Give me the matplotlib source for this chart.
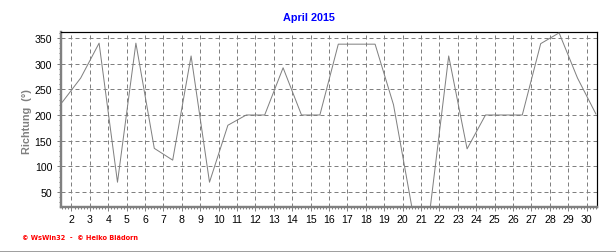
import matplotlib
matplotlib.use("Agg")
import matplotlib.pyplot as plt
from matplotlib.ticker import MultipleLocator, FixedLocator
import numpy as np

# Data
days = [d + 0.5 for d in range(1, 31)]
richtung = [225, 272, 340, 69, 340, 135, 112, 315, 69, 180,
            200, 200, 292, 200, 200, 338, 338, 338, 220, 20,
            20, 315, 134, 200, 200, 200, 339, 360, 272, 202]
xtick_labels = [str(d) for d in range(2, 31)]
ytick_values = [50, 100, 150, 200, 250, 300, 350]
title = "April 2015"
ylabel = "Richtung  (°)"
footer = "© WsWin32  -  © Heiko Blädorn"

W, H = 616, 253
fig = plt.figure(figsize=(W / 100, H / 100), dpi=100)
fig.patch.set_facecolor("white")
plt.rcParams['font.family'] = ['Liberation Sans', 'DejaVu Sans']

ax = fig.add_axes([61 / W, 1 - 208 / H, 536 / W, 175 / H])
ax.set_facecolor("white")

px = 0.72  # 1 pixel in points
gray = "#808080"

ax.plot(days, richtung, color=gray, lw=1.0 * px, zorder=3)

ax.set_xlim(1.43, 30.56)
ax.set_ylim(20.7, 361.7)

ax.xaxis.set_major_locator(FixedLocator(list(range(2, 31))))
ax.set_xticklabels(xtick_labels)
ax.xaxis.set_minor_locator(MultipleLocator(1 / 6))
ax.yaxis.set_major_locator(FixedLocator(ytick_values))
ax.set_yticklabels([str(v) for v in ytick_values])
ax.yaxis.set_minor_locator(MultipleLocator(10))

ax.grid(True, which="major", color=gray, linestyle=(0, (4, 3)), lw=1.0 * px, zorder=1)

ax.tick_params(axis="both", which="major", direction="out", length=4 * px,
               width=1 * px, color=gray, labelsize=7.6, labelcolor="black")
ax.tick_params(axis="x", which="major", pad=2.5)
ax.tick_params(axis="y", which="major", pad=3.5)
ax.tick_params(axis="both", which="minor", direction="out", length=2 * px,
               width=1 * px, color=gray)

for side in ("left", "bottom"):
    ax.spines[side].set_color(gray)
    ax.spines[side].set_linewidth(2.4 * px)
for side in ("top", "right"):
    ax.spines[side].set_color("black")
    ax.spines[side].set_linewidth(1.2 * px)

fig.text(309 / W, 1 - 18 / H, title, color="#0000ff", fontsize=7.8,
         fontweight="bold", ha="center", va="center")
fig.text(27 / W, 1 - 122 / H, ylabel, color=gray, fontsize=7.8,
         fontweight="bold", rotation=90, ha="center", va="center")
fig.text(22 / W, 1 - 238.5 / H, footer, color="#ff0000", fontsize=4.8,
         fontweight="bold", ha="left", va="center", family=["DejaVu Sans"])

# outer frame lines (right and bottom)
fig.add_artist(plt.Line2D([615.5 / W, 615.5 / W], [0, 1], color="#a0a0a0",
                          lw=1 * px, transform=fig.transFigure))
fig.add_artist(plt.Line2D([0, 1], [1 - 251.5 / H, 1 - 251.5 / H], color="#a0a0a0",
                          lw=1 * px, transform=fig.transFigure))

fig.savefig("out.png", dpi=100, facecolor="white")
